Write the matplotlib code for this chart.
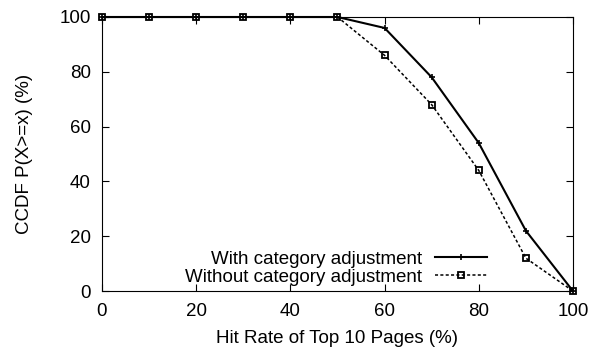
import matplotlib
matplotlib.use('Agg')
import matplotlib.pyplot as plt

plt.rcParams['font.family'] = ['Liberation Sans', 'DejaVu Sans']
plt.rcParams['font.size'] = 13.5

hit_rate = [0, 10, 20, 30, 40, 50, 60, 70, 80, 90, 100]
with_adj = [100, 100, 100, 100, 100, 100, 96, 78, 54, 22, 0]
without_adj = [100, 100, 100, 100, 100, 100, 86, 68, 44, 12, 0]

fig = plt.figure(figsize=(6.01, 3.49), dpi=100)
ax = fig.add_axes([0.1697, 0.166, 0.7837, 0.7853])

ax.plot(hit_rate, with_adj, color='black', linewidth=1.5, marker='+',
        markersize=5, markeredgewidth=1.2, label='With category adjustment',
        clip_on=False, zorder=3)
ax.plot(hit_rate, without_adj, color='black', linewidth=1.1, linestyle=(0, (2, 1.5)),
        marker='s', markersize=5, markerfacecolor='none', markeredgewidth=1.3,
        label='Without category adjustment', clip_on=False, zorder=3)

ax.set_xlim(0, 100)
ax.set_ylim(0, 100)
ax.set_xticks(range(0, 101, 20))
ax.set_yticks(range(0, 101, 20))
ax.tick_params(direction='in', top=True, right=True, length=5)
ax.tick_params(axis='x', pad=8.5)
ax.tick_params(axis='y', pad=8)
ax.set_xlabel('Hit Rate of Top 10 Pages (%)', labelpad=7)
ax.set_ylabel('CCDF P(X>=x) (%)', labelpad=19)

leg = ax.legend(loc='lower right', bbox_to_anchor=(0.85, -0.035), frameon=False,
                markerfirst=False, handlelength=2.8, handletextpad=0.7,
                labelspacing=0.05, borderpad=0.3, fontsize=13.5)
leg._legend_box.align = 'right'

fig.savefig('out.png', dpi=100)
